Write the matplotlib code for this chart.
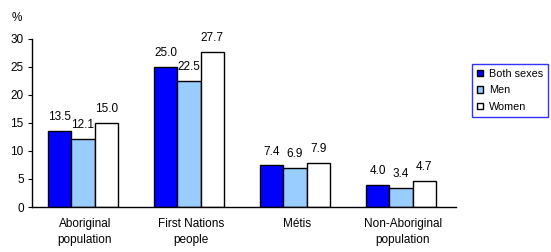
import matplotlib
matplotlib.use("Agg")
import matplotlib.pyplot as plt
import numpy as np

categories = ["Aboriginal\npopulation", "First Nations\npeople", "Métis", "Non-Aboriginal\npopulation"]
series_names = ["Both sexes", "Men", "Women"]
both = [13.5, 25.0, 7.4, 4.0]
men = [12.1, 22.5, 6.9, 3.4]
women = [15.0, 27.7, 7.9, 4.7]
yticks = [0, 5, 10, 15, 20, 25, 30]

plt.rcParams['font.family'] = ['Liberation Sans', 'DejaVu Sans']
FS = 8.5
W, H = 551, 252
fig = plt.figure(figsize=(W/100, H/100), dpi=100)
ax = fig.add_axes([32/W, 1-207/H, (456-32)/W, (207-38.7)/H])

colors = ["#0000FF", "#99CCFF", "#FFFFFF"]
x = np.arange(len(categories))
bw = 0.22
for i, (vals, c, name) in enumerate(zip([both, men, women], colors, series_names)):
    pos = x + (i-1)*bw - 0.02
    ax.bar(pos, vals, width=bw, color=c, edgecolor="black", linewidth=1.0, label=name)
    for p, v in zip(pos, vals):
        ax.text(p, v + 1.4, f"{v:.1f}", ha="center", va="bottom", fontsize=FS)

ax.set_xlim(-0.5, 3.5)
ax.set_ylim(0, 30)
ax.set_yticks(yticks)
ax.set_xticks(x)
ax.set_xticklabels(categories, fontsize=FS, linespacing=1.45)
ax.tick_params(axis="x", length=0, pad=8)
ax.tick_params(axis="y", length=3, width=0.8, labelsize=FS, pad=3)
for s in ["top", "right"]:
    ax.spines[s].set_visible(False)
for s in ["left", "bottom"]:
    ax.spines[s].set_linewidth(1.0)

fig.text(12/W, 1-18/H, "%", fontsize=FS, ha="left", va="center")

leg = fig.legend(loc="upper left", bbox_to_anchor=(472/W, 1-64/H), fontsize=7.8,
                 frameon=True, fancybox=False, edgecolor="#0000FF", handlelength=0.6,
                 handleheight=0.6, handletextpad=0.5, borderpad=0.45, labelspacing=0.6,
                 borderaxespad=0)
leg.get_frame().set_linewidth(1.0)

fig.savefig("out.png", dpi=100)
